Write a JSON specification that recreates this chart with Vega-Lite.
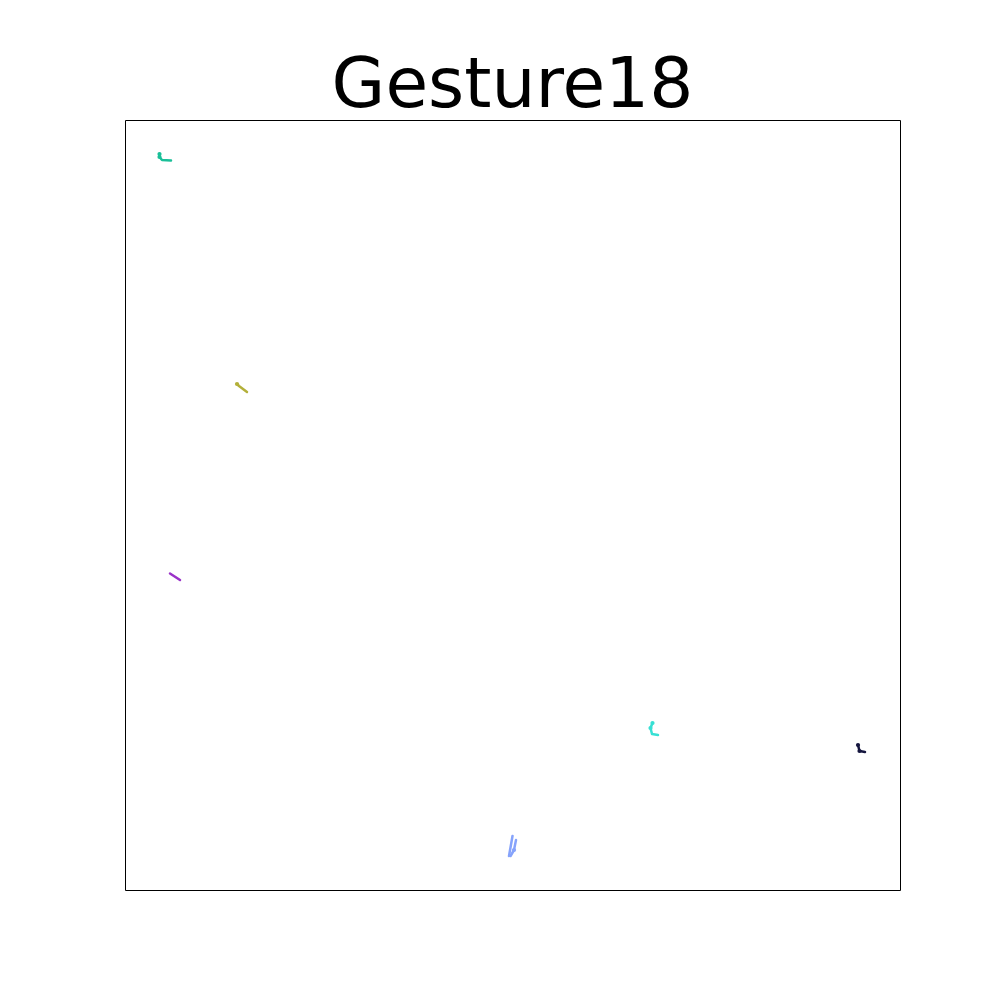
{
  "$schema": "https://vega.github.io/schema/vega-lite/v6.json",
  "width": 775,
  "height": 770,
  "autosize": {"type": "none"},
  "padding": {"left": 125, "top": 120, "right": 100, "bottom": 110},
  "background": "white",
  "title": {"text": "Gesture18", "fontSize": 69.4, "font": "DejaVu Sans", "fontWeight": "normal", "color": "black", "baseline": "alphabetic", "offset": 12, "dy": 68, "anchor": "middle"},
  "config": {"view": {"stroke": "black", "strokeWidth": 1}},
  "data": {"values": [
    {"s": "a", "i": 0, "x": 159.5, "y": 154, "h": 1},
    {"s": "a", "i": 1, "x": 159.5, "y": 157, "h": 1},
    {"s": "a", "i": 2, "x": 162, "y": 160, "h": 0},
    {"s": "a", "i": 3, "x": 171, "y": 160.5, "h": 0},
    {"s": "b", "i": 0, "x": 237, "y": 384, "h": 1},
    {"s": "b", "i": 1, "x": 239, "y": 386, "h": 0},
    {"s": "b", "i": 2, "x": 247, "y": 392, "h": 0},
    {"s": "c", "i": 0, "x": 170, "y": 573.5, "h": 0},
    {"s": "c", "i": 1, "x": 180, "y": 580, "h": 0},
    {"s": "d", "i": 0, "x": 652.5, "y": 723, "h": 1},
    {"s": "d", "i": 1, "x": 650.5, "y": 728, "h": 1},
    {"s": "d", "i": 2, "x": 652, "y": 734, "h": 0},
    {"s": "d", "i": 3, "x": 658, "y": 735, "h": 0},
    {"s": "e", "i": 0, "x": 858, "y": 745, "h": 1},
    {"s": "e", "i": 1, "x": 859.5, "y": 751, "h": 1},
    {"s": "e", "i": 2, "x": 865, "y": 752, "h": 0},
    {"s": "f", "i": 0, "x": 512.5, "y": 836, "h": 0},
    {"s": "f", "i": 1, "x": 509, "y": 856, "h": 0},
    {"s": "g", "i": 0, "x": 516, "y": 840, "h": 0},
    {"s": "g", "i": 1, "x": 514, "y": 850, "h": 1},
    {"s": "g", "i": 2, "x": 510.5, "y": 856, "h": 0}
  ]},
  "encoding": {
    "x": {"field": "x", "type": "quantitative", "scale": {"domain": [125, 900], "nice": false, "zero": false}, "axis": null},
    "y": {"field": "y", "type": "quantitative", "scale": {"domain": [120, 890], "nice": false, "zero": false, "reverse": true}, "axis": null},
    "color": {"field": "s", "type": "nominal", "legend": null,
      "scale": {"domain": ["a", "b", "c", "d", "e", "f", "g"], "range": ["#1abf98", "#b3b03a", "#9a32c8", "#38e0d4", "#15163f", "#86a3fb", "#86a3fb"]}}
  },
  "layer": [
    {
      "mark": {"type": "line", "strokeWidth": 2.5, "strokeCap": "round", "strokeJoin": "round"},
      "encoding": {"order": {"field": "i", "type": "quantitative"}}
    },
    {
      "transform": [{"filter": "datum.h == 1"}],
      "mark": {"type": "circle", "size": 18, "opacity": 1}
    }
  ]
}
